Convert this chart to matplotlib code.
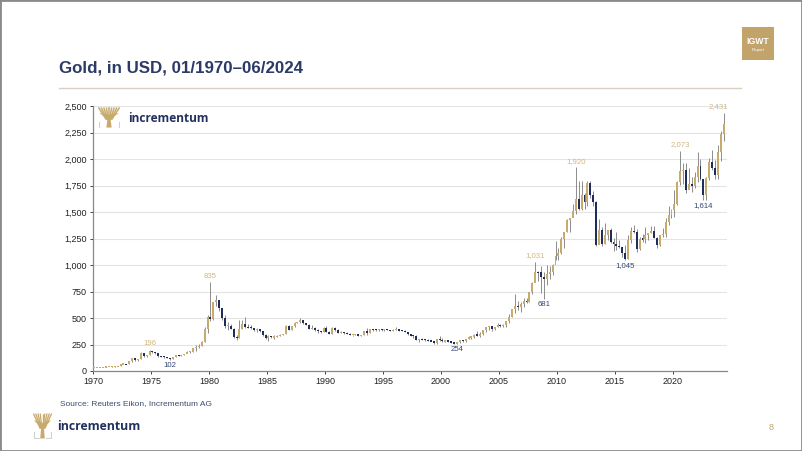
import matplotlib
matplotlib.use("Agg")
import matplotlib.pyplot as plt
from matplotlib.patches import Rectangle, Polygon
from matplotlib.ticker import FuncFormatter

# ---------------- data (quarterly, 01/1970 - 06/2024) ----------------
start_year = 1970
first_open = 35.0
close_q = [
    35.2, 35.4, 36.2, 37.4,        # 1970
    38.9, 40.1, 42.0, 43.6,        # 1971
    48.3, 65.1, 65.5, 64.9,        # 1972
    90.0, 123.3, 100.0, 112.3,     # 1973
    168.4, 143.0, 151.8, 186.5,    # 1974
    177.0, 166.3, 141.3, 139.3,    # 1975
    129.6, 123.8, 116.0, 134.5,    # 1976
    148.9, 140.8, 154.1, 164.9,    # 1977
    181.6, 183.1, 217.1, 226.0,    # 1978
    240.1, 277.5, 397.3, 512.0,    # 1979
    494.5, 653.5, 666.8, 589.8,    # 1980
    499.2, 422.8, 428.8, 397.5,    # 1981
    320.0, 315.5, 397.0, 447.0,    # 1982
    414.8, 413.0, 402.5, 382.4,    # 1983
    394.3, 373.3, 341.3, 309.0,    # 1984
    330.3, 317.0, 326.0, 327.0,    # 1985
    344.0, 345.5, 423.8, 390.9,    # 1986
    421.0, 449.0, 459.5, 484.1,    # 1987
    456.9, 436.4, 397.2, 410.3,    # 1988
    385.0, 373.0, 366.5, 401.0,    # 1989
    368.5, 352.6, 408.4, 386.2,    # 1990
    356.2, 368.0, 354.9, 353.2,    # 1991
    341.7, 343.4, 349.0, 332.9,    # 1992
    337.8, 378.5, 355.5, 391.8,    # 1993
    389.2, 387.3, 394.9, 383.3,    # 1994
    392.0, 387.9, 384.0, 387.0,    # 1995
    396.4, 382.0, 379.0, 369.3,    # 1996
    348.3, 334.6, 332.1, 289.9,    # 1997
    297.7, 295.7, 293.9, 287.8,    # 1998
    279.6, 261.3, 299.3, 290.3,    # 1999
    278.4, 288.2, 273.7, 272.2,    # 2000
    257.7, 270.6, 293.1, 279.0,    # 2001
    301.4, 318.5, 323.7, 342.8,    # 2002
    334.9, 346.0, 385.0, 416.3,    # 2003
    423.7, 395.8, 415.7, 438.0,    # 2004
    427.5, 437.1, 473.3, 513.0,    # 2005
    582.0, 613.5, 599.3, 632.0,    # 2006
    661.8, 650.5, 743.0, 833.8,    # 2007
    933.5, 930.3, 884.5, 869.8,    # 2008
    916.5, 934.5, 995.8, 1087.5,   # 2009
    1115.5, 1244.0, 1307.0, 1421.0,  # 2010
    1439.0, 1505.5, 1620.0, 1531.0,  # 2011
    1662.5, 1598.5, 1776.0, 1657.5,  # 2012
    1598.3, 1192.0, 1326.5, 1201.5,  # 2013
    1284.0, 1327.0, 1216.5, 1199.3,  # 2014
    1183.0, 1172.0, 1114.0, 1060.0,  # 2015
    1232.0, 1321.0, 1316.0, 1152.0,  # 2016
    1249.0, 1242.0, 1283.0, 1303.0,  # 2017
    1325.0, 1253.0, 1187.0, 1282.0,  # 2018
    1292.0, 1409.0, 1472.0, 1517.0,  # 2019
    1577.0, 1781.0, 1887.0, 1898.0,  # 2020
    1708.0, 1763.0, 1743.0, 1829.0,  # 2021
    1937.0, 1807.0, 1660.0, 1824.0,  # 2022
    1969.0, 1919.0, 1849.0, 2063.0,  # 2023
    2233.0, 2327.0,                  # 2024
]
high_q = [
    35.6, 35.6, 36.4, 37.6,
    39.2, 40.8, 42.8, 44.0,
    48.8, 65.5, 70.0, 66.0,
    92.0, 127.0, 126.0, 114.0,
    179.5, 172.0, 154.5, 196.0,
    186.0, 178.5, 166.5, 144.0,
    140.4, 130.5, 124.0, 135.0,
    153.0, 150.0, 154.5, 165.0,
    190.0, 186.0, 218.0, 245.0,
    253.0, 280.0, 412.0, 524.0,
    835.0, 653.5, 720.0, 661.0,
    599.0, 529.0, 460.0, 446.0,
    408.0, 344.0, 481.0, 482.0,
    509.0, 446.0, 433.0, 409.0,
    405.0, 394.0, 360.0, 349.0,
    341.0, 328.0, 340.0, 335.0,
    349.0, 347.0, 436.0, 437.0,
    425.0, 465.0, 463.0, 499.0,
    484.0, 457.0, 443.0, 432.0,
    412.0, 393.0, 375.0, 419.0,
    423.0, 374.0, 413.0, 412.0,
    392.0, 373.0, 371.0, 368.0,
    356.0, 344.0, 352.0, 346.0,
    339.0, 381.0, 409.0, 392.0,
    397.0, 392.0, 398.0, 398.0,
    396.0, 396.0, 389.0, 396.0,
    415.0, 397.0, 387.0, 383.0,
    367.0, 353.0, 341.0, 337.0,
    304.0, 312.0, 299.0, 300.0,
    290.0, 283.0, 299.0, 327.0,
    312.0, 292.0, 281.0, 275.0,
    272.0, 272.0, 294.0, 293.0,
    303.0, 327.0, 327.0, 347.0,
    382.0, 370.0, 389.0, 416.0,
    427.0, 426.0, 416.0, 454.0,
    446.0, 442.0, 473.0, 537.0,
    584.0, 725.0, 663.0, 648.0,
    690.0, 690.0, 743.0, 841.0,
    1031.0, 946.0, 988.0, 935.0,
    1004.0, 990.0, 1010.0, 1226.0,
    1161.0, 1266.0, 1315.0, 1431.0,
    1447.0, 1577.0, 1920.0, 1795.0,
    1792.0, 1677.0, 1790.0, 1796.0,
    1696.0, 1605.0, 1434.0, 1361.0,
    1392.0, 1332.0, 1345.0, 1255.0,
    1308.0, 1232.0, 1170.0, 1191.0,
    1283.0, 1362.0, 1375.0, 1337.0,
    1264.0, 1295.0, 1357.0, 1306.0,
    1366.0, 1365.0, 1265.0, 1284.0,
    1346.0, 1439.0, 1557.0, 1524.0,
    1703.0, 1789.0, 2073.0, 1966.0,
    1959.0, 1916.0, 1834.0, 1877.0,
    2070.0, 1998.0, 1814.0, 1833.0,
    2009.0, 2081.0, 1987.0, 2135.0,
    2265.0, 2431.0,
]
low_q = [
    34.8, 35.1, 35.3, 36.1,
    37.3, 38.8, 40.0, 41.9,
    43.5, 48.0, 63.0, 62.5,
    64.1, 88.0, 95.0, 91.0,
    112.0, 129.0, 129.0, 151.0,
    167.0, 162.0, 128.8, 128.0,
    124.5, 122.0, 102.0, 113.0,
    132.3, 140.0, 140.2, 152.0,
    166.0, 172.0, 182.0, 193.0,
    216.0, 235.0, 276.0, 357.0,
    474.0, 481.0, 614.0, 564.0,
    481.0, 405.0, 390.0, 392.0,
    315.0, 297.0, 313.0, 392.0,
    408.0, 405.0, 398.0, 374.0,
    371.0, 372.0, 331.0, 306.0,
    284.0, 313.0, 303.0, 320.0,
    327.0, 337.0, 345.0, 383.0,
    389.0, 419.0, 450.0, 455.0,
    442.0, 434.0, 397.0, 395.0,
    380.0, 361.0, 356.0, 366.0,
    366.0, 345.0, 352.0, 375.0,
    354.0, 355.0, 347.0, 351.0,
    340.0, 333.0, 340.0, 330.0,
    326.0, 335.0, 343.0, 355.0,
    375.0, 374.0, 376.0, 377.0,
    374.0, 383.0, 382.0, 380.0,
    387.0, 380.0, 378.0, 368.0,
    337.0, 332.0, 316.0, 289.0,
    278.0, 288.0, 284.0, 286.0,
    279.0, 257.0, 256.0, 287.0,
    278.0, 272.0, 273.0, 264.0,
    256.0, 254.0, 265.0, 275.0,
    278.0, 300.0, 300.0, 310.0,
    326.0, 321.0, 341.0, 370.0,
    390.0, 375.0, 386.0, 411.0,
    411.0, 414.0, 418.0, 456.0,
    513.0, 543.0, 573.0, 560.0,
    608.0, 642.0, 648.0, 725.0,
    846.0, 853.0, 740.0, 681.0,
    807.0, 865.0, 908.0, 1046.0,
    1045.0, 1106.0, 1157.0, 1313.0,
    1308.0, 1462.0, 1478.0, 1523.0,
    1523.0, 1527.0, 1555.0, 1636.0,
    1555.0, 1180.0, 1208.0, 1183.0,
    1202.0, 1240.0, 1206.0, 1131.0,
    1142.0, 1162.0, 1077.0, 1045.0,
    1061.0, 1208.0, 1304.0, 1123.0,
    1146.0, 1214.0, 1205.0, 1236.0,
    1303.0, 1251.0, 1160.0, 1182.0,
    1266.0, 1266.0, 1380.0, 1446.0,
    1451.0, 1568.0, 1757.0, 1764.0,
    1677.0, 1721.0, 1688.0, 1722.0,
    1780.0, 1805.0, 1614.0, 1617.0,
    1805.0, 1893.0, 1811.0, 1810.0,
    1984.0, 2170.0,
]
high_marks = ["1974Q4", "1980Q1", "2008Q1", "2011Q3", "2020Q3", "2024Q2"]
low_marks = ["1976Q3", "2001Q2", "2008Q4", "2015Q4", "2022Q3"]
y_ticks = [0, 250, 500, 750, 1000, 1250, 1500, 1750, 2000, 2250, 2500]
x_ticks = [1970, 1975, 1980, 1985, 1990, 1995, 2000, 2005, 2010, 2015, 2020]

title = "Gold, in USD, 01/1970\u201306/2024"
source = "Source: Reuters Eikon, Incrementum AG"

# ---------------- styling ----------------
GOLD = "#C8AB6C"
GOLD_TXT = "#D2B680"
NAVY = "#1F2D5C"
NAVY_TXT = "#34456F"
WICK = "#8C8C8C"
GRID = "#E4E4E4"

plt.rcParams["font.family"] = ["Liberation Sans", "DejaVu Sans"]

W, H = 802, 451
fig = plt.figure(figsize=(W / 100, H / 100), dpi=100)
fig.patch.set_facecolor("white")

def fx(px):
    return px / W

def fy(py):
    return 1 - py / H

# frame
fig.add_artist(Rectangle((0, 0), 1, 1, transform=fig.transFigure, fill=False,
                         edgecolor="#8a8a8a", linewidth=2.0))

# title and rule
fig.text(fx(59), fy(68), title, fontsize=12.2, fontweight="bold", color="#2B3A67",
         ha="left", va="center")
fig.add_artist(plt.Line2D([fx(59), fx(741)], [fy(88), fy(88)], transform=fig.transFigure,
                          color="#D9D0C2", linewidth=1.0))

# IGWT box
fig.add_artist(Rectangle((fx(742), fy(60)), fx(774) - fx(742), fy(27) - fy(60),
                         transform=fig.transFigure, facecolor="#C2A46A", edgecolor="none"))
fig.text(fx(758), fy(41), "IGWT", fontsize=6.2, fontweight="bold", color="white",
         ha="center", va="center")
fig.text(fx(758), fy(50), "Report", fontsize=3.2, color="white", ha="center", va="center")

# ---------------- main axes ----------------
ax = fig.add_axes([fx(93), fy(371), fx(727) - fx(93), fy(106) - fy(371)])
n = len(close_q)
xs = [start_year + 0.125 + 0.25 * i for i in range(n)]
opens = [first_open] + close_q[:-1]

for x, o, h, l, c in zip(xs, opens, high_q, low_q, close_q):
    ax.vlines(x, l, h, color=WICK, linewidth=0.7, zorder=2)
    up = c >= o
    height = max(abs(c - o), 11.0)
    bottom = min(o, c) if abs(c - o) >= 11.0 else (o + c) / 2 - height / 2
    ax.bar(x, height, bottom=bottom, width=0.17, color=GOLD if up else NAVY,
           edgecolor="none", zorder=3)

def qindex(tag):
    yr = int(tag[:4])
    q = int(tag[-1])
    return (yr - start_year) * 4 + (q - 1)

for tag in high_marks:
    i = qindex(tag)
    dx = -4 if tag == "2024Q2" else 0
    ax.annotate(f"{high_q[i]:,.0f}", (xs[i], high_q[i]), xytext=(dx, 2),
                textcoords="offset points", ha="center", va="bottom",
                fontsize=5.6, color=GOLD_TXT, zorder=5)
for tag in low_marks:
    i = qindex(tag)
    ax.annotate(f"{low_q[i]:,.0f}", (xs[i], low_q[i]), xytext=(0, -1.5),
                textcoords="offset points", ha="center", va="top",
                fontsize=5.6, color=NAVY_TXT, zorder=5)

ax.set_xlim(1970, 2024.66)
ax.set_ylim(0, 2500)
ax.set_yticks(y_ticks)
ax.set_xticks(x_ticks)
ax.yaxis.set_major_formatter(FuncFormatter(lambda v, p: f"{v:,.0f}"))
ax.tick_params(axis="both", labelsize=6.5, colors="#222222", length=2.5, width=0.6)
ax.tick_params(axis="x", pad=2)
ax.tick_params(axis="y", pad=2)
ax.grid(axis="y", color=GRID, linewidth=0.8, zorder=0)
ax.set_axisbelow(True)
for s in ["top", "right"]:
    ax.spines[s].set_visible(False)
for s in ["left", "bottom"]:
    ax.spines[s].set_color("#888888")
    ax.spines[s].set_linewidth(0.9)

# ---------------- logo helper ----------------
def draw_logo_icon(x0, y0, w, h):
    """x0,y0: top-left pixel; w,h in pixels"""
    lax = fig.add_axes([fx(x0), fy(y0 + h), w / W, h / H])
    lax.set_xlim(0, 1)
    lax.set_ylim(0, 1)
    lax.axis("off")
    # base bracket
    lax.plot([0.04, 0.04, 0.30], [0.28, 0.02, 0.02], color="#D0D0D0", lw=0.8)
    lax.plot([0.70, 0.96, 0.96], [0.02, 0.02, 0.28], color="#D0D0D0", lw=0.8)
    # trunk
    lax.add_patch(Polygon([[0.38, 0.02], [0.62, 0.02], [0.57, 0.45], [0.43, 0.45]],
                          closed=True, facecolor=GOLD, edgecolor="none"))
    # crown branches
    tops = [0.02, 0.14, 0.26, 0.38, 0.50, 0.62, 0.74, 0.86, 0.98]
    for tx in tops:
        lax.plot([0.5 + (tx - 0.5) * 0.25, tx], [0.40, 0.98], color=GOLD,
                 lw=1.1 * w / 22, solid_capstyle="butt")
    lax.add_patch(Polygon([[0.05, 0.72], [0.5, 0.38], [0.95, 0.72], [0.5, 0.62]],
                          closed=True, facecolor=GOLD, edgecolor="none"))

draw_logo_icon(98, 107, 22, 21)
fig.text(fx(128), fy(118), "incrementum", fontsize=8.6, fontweight="bold",
         color="#23305E", ha="left", va="center", family=["Open Sans", "DejaVu Sans"])

# ---------------- footer ----------------
fig.text(fx(60), fy(404), source, fontsize=6.0, color="#3F4B6E", ha="left", va="center")
draw_logo_icon(33, 413, 19, 26)
fig.text(fx(57), fy(426), "incrementum", fontsize=8.8, fontweight="bold",
         color="#23305E", ha="left", va="center", family=["Open Sans", "DejaVu Sans"])
fig.text(fx(771), fy(428), "8", fontsize=6.5, color="#C2A46A", ha="center", va="center")

fig.savefig("out.png", dpi=100, facecolor="white")
